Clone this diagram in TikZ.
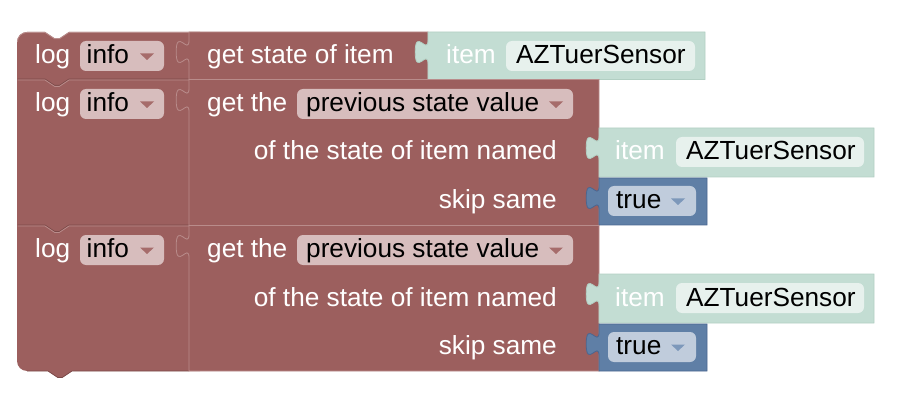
\documentclass[tikz,border=0pt]{standalone}
\usepackage{fontspec}
\newfontfamily\blockfont{Liberation Sans}
\newcommand{\blocktext}{\blockfont\fontsize{26.2}{30}\selectfont}

\definecolor{logred}{HTML}{9C5F5E}
\definecolor{loglite}{HTML}{B98C8B}
\definecolor{logdark}{HTML}{7B4948}
\definecolor{redfieldfill}{HTML}{D7BDBD}
\definecolor{redtip}{HTML}{A66C6B}
\definecolor{itemteal}{HTML}{C3DDD3}
\definecolor{tealedge}{HTML}{B2CFC3}
\definecolor{tealfieldfill}{HTML}{E7F1ED}
\definecolor{boolblue}{HTML}{5F7FA6}
\definecolor{booledge}{HTML}{4B6690}
\definecolor{bluefieldfill}{HTML}{C0CCDC}
\definecolor{bluetip}{HTML}{7D98BA}

\begin{document}
\begin{tikzpicture}[x = 1pt, y = -1pt,
        lbl/.style = {inner sep = 0pt, text = white, font = \blocktext},
        val/.style = {lbl, text = black},
        redblock/.style = {fill = logred, draw = loglite, line width = 0.8pt},
        tealblock/.style = {fill = itemteal, draw = tealedge, line width = 0.8pt},
        boolblock/.style = {fill = boolblue, draw = booledge, line width = 0.8pt},
        redfield/.style = {fill = redfieldfill, rounded corners = 6pt},
        tealfield/.style = {fill = tealfieldfill, rounded corners = 6pt},
        bluefield/.style = {fill = bluefieldfill, rounded corners = 6pt},
        hilite/.style = {draw = loglite, line width = 0.8pt},
        lowline/.style = {draw = logdark, line width = 0.8pt}]
    \useasboundingbox (0, 0) rectangle (918, 406);

    % stack of the three log blocks
    \fill[logred] (17, 42) arc[start angle = 180, end angle = 270, radius = 10]
        -- (45, 32) -- (54.6, 38.4) -- (59.4, 38.4) -- (69, 32) -- (200, 32) -- (200, 371)
        -- (72, 371) -- (62.4, 377.4) -- (57.6, 377.4) -- (48, 371) -- (27, 371)
        arc[start angle = 90, end angle = 180, radius = 10] -- cycle;
    \draw[hilite] (17.4, 42) arc[start angle = 180, end angle = 270, radius = 9.6]
        -- (45, 32.4) -- (54.6, 38.8) -- (59.4, 38.8) -- (69, 32.4) -- (189, 32.4);
    \draw[lowline] (27, 371) -- (48, 371) -- (57.6, 377.4) -- (62.4, 377.4) -- (72, 371) -- (189, 371);
    \draw[lowline] (17.5, 79) -- (45, 79) -- (54.6, 85.4) -- (59.4, 85.4) -- (69, 79) -- (189, 79);
    \draw[hilite] (17.5, 80) -- (45, 80) -- (54.6, 86.4) -- (59.4, 86.4) -- (69, 80) -- (189, 80);
    \draw[lowline] (17.5, 225) -- (45, 225) -- (54.6, 231.4) -- (59.4, 231.4) -- (69, 225) -- (189, 225);
    \draw[hilite] (17.5, 226) -- (45, 226) -- (54.6, 232.4) -- (59.4, 232.4) -- (69, 226) -- (189, 226);

    % first block
    \filldraw[redblock] (189, 32) -- (189, 40) .. controls (189, 56) and (176.2, 27.2) .. (176.2, 52)
        .. controls (176.2, 76.8) and (189, 48) .. (189, 64) -- (189, 79.5) -- (428, 79.5) -- (428, 32) -- cycle;
    \filldraw[tealblock] (428, 32) -- (428, 40) .. controls (428, 56) and (415.2, 27.2) .. (415.2, 52)
        .. controls (415.2, 76.8) and (428, 48) .. (428, 64) -- (428, 79.5) -- (705, 79.5) -- (705, 32) -- cycle;
    \fill[redfield] (80, 41) rectangle (164, 71);
    \fill[redtip] (140, 53.5) -- (154, 53.5) -- (147, 60) -- cycle;
    \fill[tealfield] (506, 41) rectangle (695, 71);
    \node[lbl, anchor = base west] (logA) at (35, 63.5) {log};
    \node[val, anchor = base west] (infoA) at (86.5, 63.5) {info};
    \node[lbl, anchor = base west] (getstate) at (207, 63.5) {get state of item};
    \node[lbl, anchor = base west] (itemA) at (446, 63.5) {item};
    \node[val, anchor = base west] (nameA) at (516, 63.5) {AZTuerSensor};

    % second block
    \filldraw[redblock] (189, 79.5) -- (189, 88) .. controls (189, 104) and (176.2, 75.2) .. (176.2, 100)
        .. controls (176.2, 124.8) and (189, 96) .. (189, 112) -- (189, 225.5) -- (599, 225.5) -- (599, 79.5) -- cycle;
    \filldraw[tealblock] (599, 128) -- (599, 136) .. controls (599, 152) and (586.2, 123.2) .. (586.2, 148)
        .. controls (586.2, 172.8) and (599, 144) .. (599, 160) -- (599, 177) -- (874, 177) -- (874, 128) -- cycle;
    \filldraw[boolblock] (599, 178) -- (599, 186) .. controls (599, 202) and (586.2, 173.2) .. (586.2, 198)
        .. controls (586.2, 222.8) and (599, 194) .. (599, 210) -- (599, 225) -- (707, 225) -- (707, 178) -- cycle;
    \fill[redfield] (80, 89) rectangle (164, 119);
    \fill[redtip] (140, 101.5) -- (154, 101.5) -- (147, 108) -- cycle;
    \fill[redfield] (297, 89) rectangle (573, 119);
    \fill[redtip] (549, 101.5) -- (563, 101.5) -- (556, 108) -- cycle;
    \fill[tealfield] (676, 137) rectangle (864, 167);
    \fill[bluefield] (608, 186) rectangle (696, 216);
    \fill[bluetip] (671, 198.5) -- (685, 198.5) -- (678, 205) -- cycle;
    \node[lbl, anchor = base west] (logB) at (35, 111.5) {log};
    \node[val, anchor = base west] (infoB) at (86.5, 111.5) {info};
    \node[lbl, anchor = base west] (gettheB) at (207, 111.5) {get the};
    \node[val, anchor = base west] (prevB) at (306, 111.5) {previous state value};
    \node[lbl, anchor = base east] (ofitemB) at (557, 160) {of the state of item named};
    \node[lbl, anchor = base west] (itemB) at (615, 160) {item};
    \node[val, anchor = base west] (nameB) at (686, 160) {AZTuerSensor};
    \node[lbl, anchor = base east] (skipB) at (557, 208.5) {skip same};
    \node[val, anchor = base west] (trueB) at (616, 208.5) {true};

    % third block
    \filldraw[redblock] (189, 225.5) -- (189, 234) .. controls (189, 250) and (176.2, 221.2) .. (176.2, 246)
        .. controls (176.2, 270.8) and (189, 242) .. (189, 258) -- (189, 371) -- (599, 371) -- (599, 225.5) -- cycle;
    \filldraw[tealblock] (599, 274) -- (599, 282) .. controls (599, 298) and (586.2, 269.2) .. (586.2, 294)
        .. controls (586.2, 318.8) and (599, 290) .. (599, 306) -- (599, 323) -- (874, 323) -- (874, 274) -- cycle;
    \filldraw[boolblock] (599, 324) -- (599, 332) .. controls (599, 348) and (586.2, 319.2) .. (586.2, 344)
        .. controls (586.2, 368.8) and (599, 340) .. (599, 356) -- (599, 371) -- (707, 371) -- (707, 324) -- cycle;
    \fill[redfield] (80, 235) rectangle (164, 265);
    \fill[redtip] (140, 247.5) -- (154, 247.5) -- (147, 254) -- cycle;
    \fill[redfield] (297, 235) rectangle (573, 265);
    \fill[redtip] (549, 247.5) -- (563, 247.5) -- (556, 254) -- cycle;
    \fill[tealfield] (676, 283) rectangle (864, 313);
    \fill[bluefield] (608, 332) rectangle (696, 362);
    \fill[bluetip] (671, 344.5) -- (685, 344.5) -- (678, 351) -- cycle;
    \node[lbl, anchor = base west] (logC) at (35, 257.5) {log};
    \node[val, anchor = base west] (infoC) at (86.5, 257.5) {info};
    \node[lbl, anchor = base west] (gettheC) at (207, 257.5) {get the};
    \node[val, anchor = base west] (prevC) at (306, 257.5) {previous state value};
    \node[lbl, anchor = base east] (ofitemC) at (557, 306) {of the state of item named};
    \node[lbl, anchor = base west] (itemC) at (615, 306) {item};
    \node[val, anchor = base west] (nameC) at (686, 306) {AZTuerSensor};
    \node[lbl, anchor = base east] (skipC) at (557, 354.5) {skip same};
    \node[val, anchor = base west] (trueC) at (616, 354.5) {true};
\end{tikzpicture}
\end{document}
